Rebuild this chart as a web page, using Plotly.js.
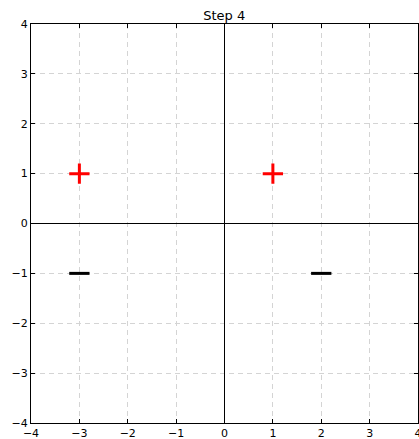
<!DOCTYPE html>
<html><head><meta charset="utf-8">
<script src="https://cdn.plot.ly/plotly-3.0.1.min.js"></script>
<style>html,body{margin:0;padding:0;background:#fff;}#chart{width:419px;height:439px;}</style>
</head><body><div id="chart"></div>
<script>
const posX = [-3, 1];
const posY = [1, 1];
const negX = [-3, 2];
const negY = [-1, -1];
const tickVals = [-4, -3, -2, -1, 0, 1, 2, 3, 4];

const traces = [
  {x: posX, y: posY, type: 'scatter', mode: 'markers', hoverinfo: 'none', cliponaxis: false,
   marker: {symbol: 'cross-thin', size: 14.5, color: 'red', line: {color: 'red', width: 3}}},
  {x: negX, y: negY, type: 'scatter', mode: 'markers', hoverinfo: 'none', cliponaxis: false,
   marker: {symbol: 'line-ew', size: 14.5, color: 'black', line: {color: 'black', width: 3}}}
];

const axisCommon = {
  range: [-4, 4], tickvals: tickVals, ticks: 'inside', ticklen: 4, tickcolor: '#000',
  showline: true, linecolor: '#000', linewidth: 1, mirror: 'ticks',
  showgrid: true, gridcolor: '#d4d4d4', griddash: '5px,4px', gridwidth: 1,
  zeroline: true, zerolinecolor: '#000', zerolinewidth: 1,
  tickfont: {family: 'DejaVu Sans', size: 11, color: '#000'}, fixedrange: true,
  ticklabeloverflow: 'allow'
};

const layout = {
  width: 419, height: 439,
  margin: {l: 31, r: 1, t: 24, b: 16},
  paper_bgcolor: '#fff', plot_bgcolor: '#fff',
  showlegend: false,
  title: {text: 'Step 4', x: 0.535, xanchor: 'center', y: 0.965, yanchor: 'middle',
          font: {family: 'DejaVu Sans', size: 13, color: '#000'}},
  xaxis: Object.assign({}, axisCommon, {ticklabelstandoff: 0}),
  yaxis: Object.assign({}, axisCommon)
};

Plotly.newPlot('chart', traces, layout, {displayModeBar: false, staticPlot: true});
</script></body></html>
